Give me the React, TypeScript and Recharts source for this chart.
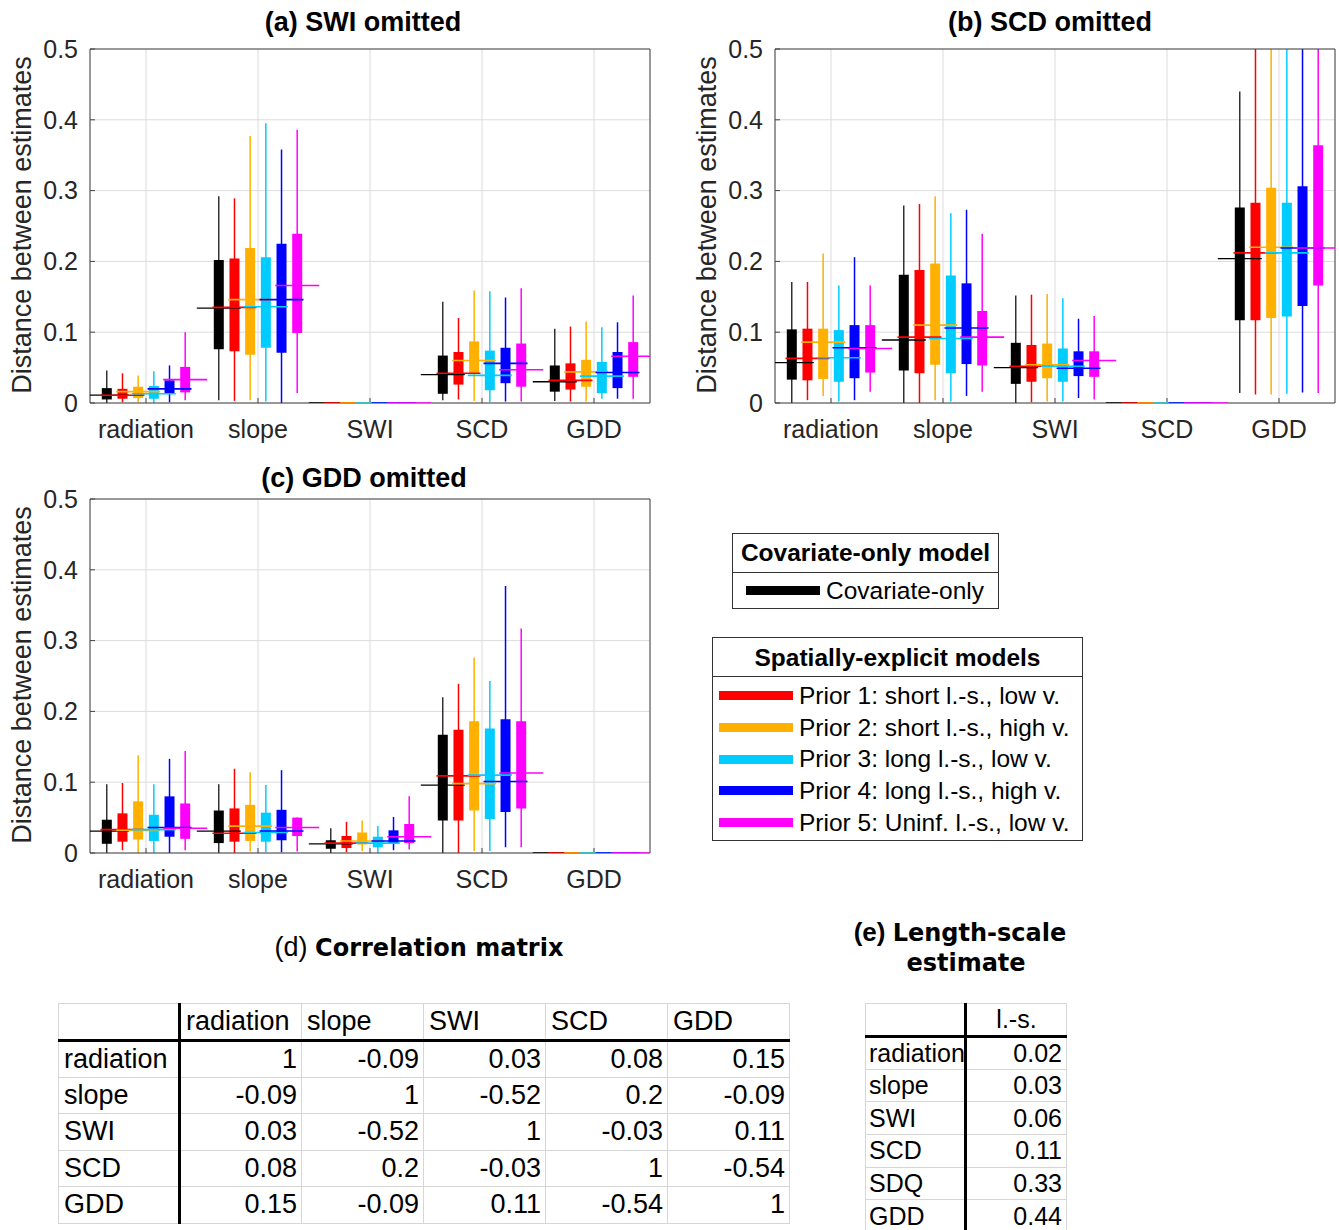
import React from "react";
import { ComposedChart, Scatter, ErrorBar, XAxis, YAxis, CartesianGrid } from "recharts";

const categories = ["radiation", "slope", "SWI", "SCD", "GDD"];
const seriesColors = ["#000000", "#ff0000", "#ffb000", "#00ccff", "#0000ff", "#ff00ff"];
const covariateNames = ["Covariate-only"];
const priorNames = [
  "Prior 1: short l.-s., low v.",
  "Prior 2: short l.-s., high v.",
  "Prior 3: long l.-s., low v.",
  "Prior 4: long l.-s., high v.",
  "Prior 5: Uninf. l.-s., low v.",
];
const yTicks = [0, 0.1, 0.2, 0.3, 0.4, 0.5];
const xTicks = [1, 2, 3, 4, 5];

// one row per category: [whisker low, box low, box high, whisker high, line]
const zero = [0, 0, 0, 0, 0];

const aCovariate = [[0, 0.005, 0.021, 0.046, 0.011], [0.004, 0.076, 0.202, 0.292, 0.134], zero, [0.004, 0.013, 0.067, 0.143, 0.04], [0.003, 0.016, 0.053, 0.105, 0.03]];
const aPrior1 = [[0.001, 0.006, 0.02, 0.042, 0.011], [0.003, 0.073, 0.204, 0.289, 0.135], zero, [0.005, 0.026, 0.072, 0.12, 0.042], [0.002, 0.019, 0.056, 0.108, 0.032]];
const aPrior2 = [[0.001, 0.007, 0.023, 0.039, 0.016], [0.004, 0.068, 0.219, 0.377, 0.146], zero, [0.003, 0.041, 0.087, 0.159, 0.06], [0.002, 0.023, 0.061, 0.115, 0.044]];
const aPrior3 = [[0, 0.006, 0.024, 0.045, 0.013], [0.002, 0.078, 0.206, 0.395, 0.136], zero, [0.001, 0.018, 0.074, 0.158, 0.039], [0.006, 0.014, 0.058, 0.107, 0.038]];
const aPrior4 = [[0.001, 0.013, 0.032, 0.053, 0.02], [0, 0.071, 0.225, 0.358, 0.146], zero, [0.002, 0.028, 0.078, 0.149, 0.056], [0.006, 0.021, 0.072, 0.114, 0.043]];
const aPrior5 = [[0.004, 0.015, 0.051, 0.1, 0.033], [0.014, 0.099, 0.239, 0.386, 0.166], zero, [0.002, 0.023, 0.084, 0.162, 0.047], [0.006, 0.037, 0.086, 0.152, 0.066]];

const bCovariate = [[0, 0.033, 0.104, 0.171, 0.057], [0, 0.046, 0.181, 0.279, 0.089], [0, 0.027, 0.085, 0.152, 0.05], zero, [0.014, 0.117, 0.276, 0.44, 0.204]];
const bPrior1 = [[0.004, 0.032, 0.105, 0.171, 0.063], [0, 0.042, 0.188, 0.281, 0.093], [0.001, 0.03, 0.082, 0.153, 0.052], zero, [0.012, 0.117, 0.283, 0.5, 0.212]];
const bPrior2 = [[0.01, 0.034, 0.105, 0.211, 0.086], [0.004, 0.054, 0.197, 0.292, 0.11], [0.002, 0.035, 0.084, 0.154, 0.054], zero, [0.012, 0.12, 0.304, 0.5, 0.22]];
const bPrior3 = [[0.002, 0.03, 0.103, 0.166, 0.064], [0.002, 0.042, 0.18, 0.268, 0.091], [0.002, 0.03, 0.077, 0.148, 0.052], zero, [0.013, 0.122, 0.283, 0.5, 0.212]];
const bPrior4 = [[0.004, 0.035, 0.11, 0.206, 0.078], [0.01, 0.055, 0.169, 0.273, 0.106], [0.007, 0.038, 0.073, 0.119, 0.049], zero, [0.015, 0.137, 0.306, 0.5, 0.219]];
const bPrior5 = [[0.016, 0.043, 0.11, 0.166, 0.077], [0.016, 0.053, 0.13, 0.239, 0.093], [0.005, 0.037, 0.073, 0.123, 0.06], zero, [0.014, 0.166, 0.364, 0.5, 0.219]];

const cCovariate = [[0, 0.013, 0.047, 0.097, 0.031], [0, 0.014, 0.06, 0.097, 0.031], [0, 0.006, 0.018, 0.035, 0.013], [0, 0.046, 0.167, 0.22, 0.096], zero];
const cPrior1 = [[0.004, 0.016, 0.056, 0.099, 0.033], [0, 0.016, 0.063, 0.119, 0.028], [0.001, 0.007, 0.024, 0.044, 0.014], [0, 0.046, 0.174, 0.239, 0.109], zero];
const cPrior2 = [[0, 0.019, 0.073, 0.138, 0.032], [0.002, 0.017, 0.068, 0.114, 0.038], [0.003, 0.012, 0.029, 0.046, 0.017], [0.003, 0.06, 0.186, 0.276, 0.098], zero];
const cPrior3 = [[0, 0.017, 0.054, 0.097, 0.033], [0.001, 0.016, 0.057, 0.096, 0.029], [0, 0.008, 0.023, 0.038, 0.014], [0.003, 0.048, 0.176, 0.243, 0.11], zero];
const cPrior4 = [[0, 0.023, 0.08, 0.133, 0.036], [0.001, 0.018, 0.061, 0.117, 0.031], [0.004, 0.013, 0.032, 0.051, 0.017], [0.008, 0.058, 0.189, 0.377, 0.101], zero];
const cPrior5 = [[0.004, 0.02, 0.07, 0.144, 0.035], [0.002, 0.024, 0.05, 0.05, 0.036], [0.005, 0.014, 0.041, 0.08, 0.023], [0.008, 0.063, 0.186, 0.317, 0.113], zero];

const corrLabels = ["radiation", "slope", "SWI", "SCD", "GDD"];
const corrRadiation = [1, -0.09, 0.03, 0.08, 0.15];
const corrSlope = [-0.09, 1, -0.52, 0.2, -0.09];
const corrSWI = [0.03, -0.52, 1, -0.03, 0.11];
const corrSCD = [0.08, 0.2, -0.03, 1, -0.54];
const corrGDD = [0.15, -0.09, 0.11, -0.54, 1];

const lsLabels = ["radiation", "slope", "SWI", "SCD", "SDQ", "GDD"];
const lsValues = [0.02, 0.03, 0.06, 0.11, 0.33, 0.44];

const FONT = '"Liberation Sans", Arial, sans-serif';
const AXIS = "#444";
const TEXT = "#262626";

const toPoints = (rows: number[][], s: number) =>
  rows.map(([lo, q1, q3, hi, mid], i) => ({
    x: i + 1 + (s - 2.5) * 0.14,
    y: mid,
    whisker: [mid - lo, hi - mid],
    box: [mid - q1, q3 - mid],
  }));

const BoxPanel = ({ series }: { series: number[][][] }) => {
  const data = series.map((rows, s) => toPoints(rows, s));
  return (
    <ComposedChart width={660} height={470} margin={{ top: 47, right: 9, bottom: 28, left: 30 }}>
      <CartesianGrid stroke="#dcdcdc" strokeWidth={1} />
      <XAxis
        type="number"
        dataKey="x"
        domain={[0.5, 5.5]}
        ticks={xTicks}
        allowDataOverflow
        tickFormatter={(v: number) => categories[v - 1]}
        height={40}
        tickSize={-5}
        tickMargin={22}
        stroke={AXIS}
        tick={{ fill: TEXT, fontSize: 25, fontFamily: FONT }}
      />
      <XAxis xAxisId="top" orientation="top" type="number" domain={[0.5, 5.5]} ticks={xTicks} allowDataOverflow height={1} tickSize={-5} tick={false} stroke={AXIS} />
      <YAxis
        type="number"
        dataKey="y"
        domain={[0, 0.5]}
        ticks={yTicks}
        allowDataOverflow
        width={60}
        tickSize={-5}
        tickMargin={17}
        stroke={AXIS}
        tick={{ fill: TEXT, fontSize: 25, fontFamily: FONT }}
      />
      <YAxis yAxisId="right" orientation="right" type="number" domain={[0, 0.5]} ticks={yTicks} allowDataOverflow width={1} tickSize={-5} tick={false} stroke={AXIS} />
      {data.map((pts, s) => (
        <Scatter key={"box" + s} data={pts} isAnimationActive={false} shape={() => <g />}>
          <ErrorBar dataKey="whisker" direction="y" width={0} stroke={seriesColors[s]} strokeWidth={s === 0 ? 1.2 : 1.5} isAnimationActive={false} />
          <ErrorBar dataKey="box" direction="y" width={0} stroke={seriesColors[s]} strokeWidth={10} isAnimationActive={false} />
        </Scatter>
      ))}
      {data.map((pts, s) => (
        <Scatter
          key={"mid" + s}
          data={pts}
          isAnimationActive={false}
          shape={(p: any) => (
            <line x1={p.cx - 22} x2={p.cx + 22} y1={p.cy} y2={p.cy} stroke={seriesColors[s]} strokeWidth={s === 0 ? 1.3 : 1.6} />
          )}
        />
      ))}
    </ComposedChart>
  );
};

const Abs = ({ left, top, children, style }: any) => (
  <div style={{ position: "absolute", left, top, ...style }}>{children}</div>
);

const Title = ({ cx, cy, text }: { cx: number; cy: number; text: string }) => (
  <div style={{ position: "absolute", left: cx, top: cy, transform: "translate(-50%, -50%)", fontWeight: "bold", fontSize: 27, whiteSpace: "nowrap", color: "#000" }}>
    {text}
  </div>
);

const YLabel = ({ cx, cy }: { cx: number; cy: number }) => (
  <div style={{ position: "absolute", left: cx, top: cy, transform: "translate(-50%, -50%) rotate(-90deg)", fontSize: 27, whiteSpace: "nowrap", color: TEXT }}>
    Distance between estimates
  </div>
);

const LegendRow = ({ color, text }: { color: string; text: string }) => (
  <div style={{ display: "flex", alignItems: "center", height: 31.7 }}>
    <div style={{ width: 74, height: 9, background: color, marginRight: 6 }} />
    <span>{text}</span>
  </div>
);

const cellBorder = "1px solid #d6d6d6";
const thick = "3px solid #000";

const App = () => {
  const corrRows = [corrRadiation, corrSlope, corrSWI, corrSCD, corrGDD];
  return (
    <div style={{ position: "absolute", left: 0, top: 0, width: 1339, height: 1230, background: "#fff", fontFamily: FONT, overflow: "hidden" }}>
      <Abs left={0} top={1}>
        <BoxPanel series={[aCovariate, aPrior1, aPrior2, aPrior3, aPrior4, aPrior5]} />
      </Abs>
      <Abs left={685} top={1}>
        <BoxPanel series={[bCovariate, bPrior1, bPrior2, bPrior3, bPrior4, bPrior5]} />
      </Abs>
      <Abs left={0} top={451}>
        <BoxPanel series={[cCovariate, cPrior1, cPrior2, cPrior3, cPrior4, cPrior5]} />
      </Abs>

      <Title cx={363} cy={22} text="(a) SWI omitted" />
      <Title cx={1050} cy={22} text="(b) SCD omitted" />
      <Title cx={364} cy={478} text="(c) GDD omitted" />
      <YLabel cx={22} cy={225} />
      <YLabel cx={707} cy={225} />
      <YLabel cx={22} cy={675} />

      {/* legends */}
      <Abs left={732} top={533} style={{ width: 267, height: 76, border: "1.5px solid #333", boxSizing: "border-box", fontSize: 24.5 }}>
        <div style={{ height: 38, borderBottom: "1.5px solid #333", fontWeight: "bold", textAlign: "center", lineHeight: "38px" }}>
          Covariate-only model
        </div>
        <div style={{ paddingLeft: 13, paddingTop: 2 }}>
          {covariateNames.map((n) => (
            <LegendRow key={n} color={seriesColors[0]} text={n} />
          ))}
        </div>
      </Abs>
      <Abs left={712} top={637} style={{ width: 371, height: 204, border: "1.5px solid #333", boxSizing: "border-box", fontSize: 24.5 }}>
        <div style={{ height: 38, borderBottom: "1.5px solid #333", fontWeight: "bold", textAlign: "center", lineHeight: "40px" }}>
          Spatially-explicit models
        </div>
        <div style={{ paddingLeft: 6, paddingTop: 3 }}>
          {priorNames.map((n, i) => (
            <LegendRow key={n} color={seriesColors[i + 1]} text={n} />
          ))}
        </div>
      </Abs>

      {/* (d) correlation matrix */}
      <div style={{ position: "absolute", left: 419, top: 947, transform: "translate(-50%, -50%)", whiteSpace: "nowrap" }}>
        <span style={{ fontSize: 27 }}>(d) </span>
        <span style={{ fontFamily: '"DejaVu Sans", sans-serif', fontWeight: "bold", fontSize: 24 }}>Correlation matrix</span>
      </div>
      <Abs left={58} top={1003}>
        <table style={{ borderCollapse: "collapse", tableLayout: "fixed", width: 731, fontSize: 27, color: "#000" }}>
          <colgroup>
            <col style={{ width: 121 }} />
            {corrLabels.map((l) => (
              <col key={l} style={{ width: 122 }} />
            ))}
          </colgroup>
          <tbody>
            <tr style={{ height: 37 }}>
              <td style={{ border: cellBorder, borderRight: thick, borderBottom: thick }} />
              {corrLabels.map((l) => (
                <td key={l} style={{ border: cellBorder, borderBottom: thick, textAlign: "left", padding: "0 5px" }}>
                  {l}
                </td>
              ))}
            </tr>
            {corrRows.map((row, r) => (
              <tr key={r} style={{ height: 36.5 }}>
                <td style={{ border: cellBorder, borderRight: thick, padding: "0 5px" }}>{corrLabels[r]}</td>
                {row.map((v, c) => (
                  <td key={c} style={{ border: cellBorder, textAlign: "right", padding: "0 4px" }}>
                    {String(v)}
                  </td>
                ))}
              </tr>
            ))}
          </tbody>
        </table>
      </Abs>

      {/* (e) length-scale */}
      <div style={{ position: "absolute", left: 960, top: 932, transform: "translate(-50%, -50%)", whiteSpace: "nowrap" }}>
        <span style={{ fontSize: 26, fontWeight: "bold" }}>(e) </span>
        <span style={{ fontFamily: '"DejaVu Sans", sans-serif', fontWeight: "bold", fontSize: 24 }}>Length-scale</span>
      </div>
      <div style={{ position: "absolute", left: 966, top: 963, transform: "translate(-50%, -50%)", whiteSpace: "nowrap", fontFamily: '"DejaVu Sans", sans-serif', fontWeight: "bold", fontSize: 24 }}>
        estimate
      </div>
      <Abs left={865} top={1003}>
        <table style={{ borderCollapse: "collapse", tableLayout: "fixed", width: 201, fontSize: 25, color: "#000" }}>
          <colgroup>
            <col style={{ width: 100 }} />
            <col style={{ width: 101 }} />
          </colgroup>
          <tbody>
            <tr style={{ height: 33 }}>
              <td style={{ border: cellBorder, borderRight: thick, borderBottom: thick }} />
              <td style={{ border: cellBorder, borderBottom: thick, textAlign: "center" }}>l.-s.</td>
            </tr>
            {lsLabels.map((l, i) => (
              <tr key={l} style={{ height: 32.7 }}>
                <td style={{ border: cellBorder, borderRight: thick, padding: "0 3px", whiteSpace: "nowrap", overflow: "hidden" }}>{l}</td>
                <td style={{ border: cellBorder, textAlign: "right", padding: "0 4px" }}>{lsValues[i].toFixed(2)}</td>
              </tr>
            ))}
          </tbody>
        </table>
      </Abs>
    </div>
  );
};

export default App;
